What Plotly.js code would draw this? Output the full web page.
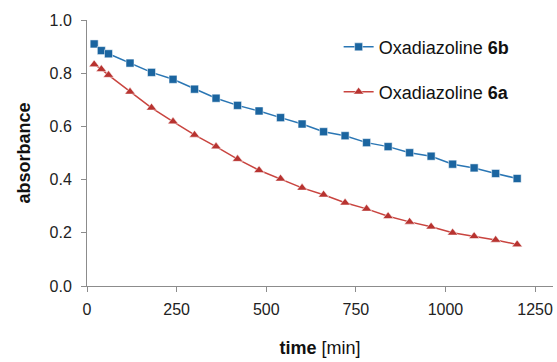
<!DOCTYPE html>
<html>
<head>
<meta charset="utf-8">
<script src="https://cdn.plot.ly/plotly-3.0.1.min.js"></script>
<style>html,body{margin:0;padding:0;background:#fff;}#chart{width:557px;height:362px;}</style>
</head>
<body>
<div id="chart"></div>
<script>
const timeMin = [20, 40, 60, 120, 180, 240, 300, 360, 420, 480, 540, 600, 660, 720, 780, 840, 900, 960, 1020, 1080, 1140, 1200];
const abs6b = [0.91, 0.885, 0.873, 0.838, 0.803, 0.777, 0.74, 0.706, 0.679, 0.658, 0.633, 0.609, 0.58, 0.565, 0.539, 0.524, 0.501, 0.488, 0.458, 0.444, 0.423, 0.404];
const abs6a = [0.833, 0.815, 0.793, 0.73, 0.67, 0.618, 0.568, 0.524, 0.477, 0.435, 0.403, 0.369, 0.343, 0.313, 0.29, 0.262, 0.241, 0.223, 0.2, 0.187, 0.173, 0.156];
const name6b = 'Oxadiazoline <b>6b</b>';
const name6a = 'Oxadiazoline <b>6a</b>';
const xTicks = [0, 250, 500, 750, 1000, 1250];
const yTicks = [0, 0.2, 0.4, 0.6, 0.8, 1.0];

const font = "'Liberation Sans', Arial, sans-serif";
const traces = [
  {x: timeMin, y: abs6b, name: name6b, type: 'scatter', mode: 'lines+markers',
   line: {color: '#2a76b4', width: 1.5},
   marker: {symbol: 'square', size: 8, color: '#1b65a0', line: {color: '#ffffff', width: 0.5}},
   legend: 'legend'},
  {x: timeMin, y: abs6a, name: name6a, type: 'scatter', mode: 'lines+markers',
   line: {color: '#c9443f', width: 1.5},
   marker: {symbol: 'triangle-up', size: 9, color: '#b83330', line: {color: '#ffffff', width: 0.5}},
   legend: 'legend2'}
];
const axisCommon = {
  showgrid: false, zeroline: false, showline: true, linecolor: '#8c8c8c', linewidth: 1,
  ticks: 'outside', ticklen: 5, tickcolor: '#8c8c8c',
  tickfont: {family: font, size: 16, color: '#222'}
};
const legendCommon = {
  xanchor: 'left', yanchor: 'middle', bgcolor: 'rgba(0,0,0,0)',
  font: {family: font, size: 18, color: '#111'}
};
const layout = {
  width: 557, height: 362,
  margin: {l: 87, r: 4, t: 20, b: 76},
  paper_bgcolor: '#fff', plot_bgcolor: '#fff',
  xaxis: Object.assign({}, axisCommon, {
    range: [0, 1300], tickvals: xTicks, ticktext: xTicks.map(String), ticklabelstandoff: 4,
    title: {text: '<b>time</b> [min]', font: {family: font, size: 18, color: '#111'}, standoff: 24}
  }),
  yaxis: Object.assign({}, axisCommon, {
    range: [0, 1], tickvals: yTicks, ticktext: yTicks.map(v => v.toFixed(1)), ticklabelstandoff: 6,
    title: {text: '<b>absorbance</b>', font: {family: font, size: 18, color: '#111'}, standoff: 14}
  }),
  showlegend: true,
  legend: Object.assign({}, legendCommon, {x: 0.54, y: 0.898}),
  legend2: Object.assign({}, legendCommon, {x: 0.54, y: 0.729})
};
Plotly.newPlot('chart', traces, layout, {displayModeBar: false, staticPlot: true});
</script>
</body>
</html>
